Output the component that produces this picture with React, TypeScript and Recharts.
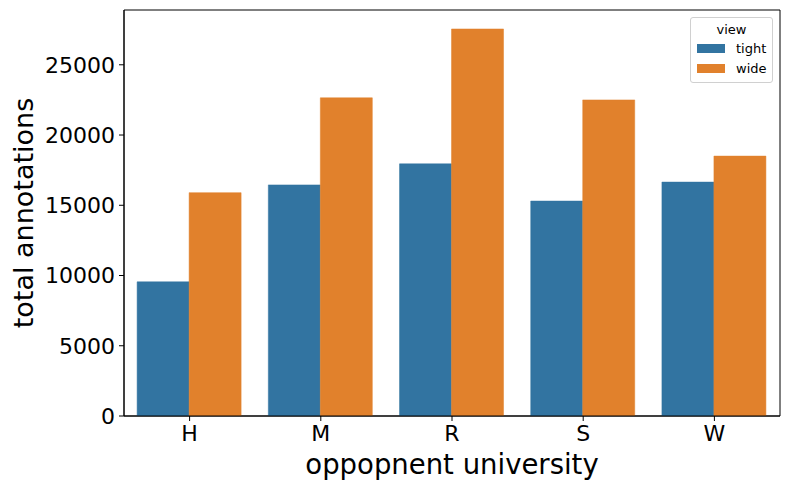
import { BarChart, Bar, XAxis, YAxis, Legend, Label, ReferenceArea } from "recharts"

const universities = ["H", "M", "R", "S", "W"]
const tightValues = [9550, 16450, 17950, 15300, 16650]
const wideValues = [15900, 22650, 27550, 22500, 18500]
const yTicks = [0, 5000, 10000, 15000, 20000, 25000]
const yDomain = [0, 28900]

const seriesInfo = [
  { key: "tight", color: "#3274a1" },
  { key: "wide", color: "#e1812c" },
]

const chartData = universities.map((name, i) => ({
  name,
  tight: tightValues[i],
  wide: wideValues[i],
}))

const font = "DejaVu Sans, sans-serif"

function ViewLegend() {
  return (
    <div
      style={{
        width: 81,
        height: 64,
        border: "1px solid #d0d0d0",
        borderRadius: 3,
        background: "rgba(255,255,255,0.8)",
        fontFamily: font,
        fontSize: 13,
        color: "#000",
        boxSizing: "content-box",
      }}
    >
      <div style={{ textAlign: "center", marginTop: 4, lineHeight: "16px" }}>view</div>
      {seriesInfo.map((s) => (
        <div key={s.key} style={{ display: "flex", alignItems: "center", height: 20, marginLeft: 6 }}>
          <span style={{ display: "inline-block", width: 28, height: 9, background: s.color }} />
          <span style={{ marginLeft: 11 }}>{s.key}</span>
        </div>
      ))}
    </div>
  )
}

function YTitle(props: any) {
  const vb = props.viewBox
  const cx = 33
  const cy = vb.y + vb.height / 2
  return (
    <text x={cx} y={cy} transform={`rotate(-90, ${cx}, ${cy})`} textAnchor="middle" fontSize={27} fontFamily={font} fill="#000">
      total annotations
    </text>
  )
}

function XTitle(props: any) {
  const vb = props.viewBox
  const cx = vb.x + vb.width / 2
  return (
    <text x={cx} y={474} textAnchor="middle" fontSize={27.5} fontFamily={font} fill="#000">
      oppopnent university
    </text>
  )
}

export default function App() {
  return (
    <div style={{ position: "absolute", left: 0, top: 0, width: 790, height: 490, background: "#fff" }}>
      <BarChart
        width={790}
        height={490}
        data={chartData}
        margin={{ top: 10, right: 10, bottom: 0, left: 0 }}
        barCategoryGap="10%"
        barGap={0}
      >
        <XAxis
          dataKey="name"
          height={74}
          tickSize={5}
          tickMargin={4}
          axisLine={{ stroke: "#000" }}
          tick={{ fill: "#000", fontSize: 22, fontFamily: font }}
          tickLine={{ stroke: "#000" }}
        >
          <Label content={XTitle} />
        </XAxis>
        <YAxis
          width={124}
          domain={yDomain}
          ticks={yTicks}
          tickSize={5}
          tickMargin={4}
          interval={0}
          allowDataOverflow
          axisLine={{ stroke: "#000" }}
          tick={{ fill: "#000", fontSize: 22, fontFamily: font }}
          tickLine={{ stroke: "#000" }}
        >
          <Label content={YTitle} />
        </YAxis>
        <Legend
          layout="horizontal"
          verticalAlign="middle"
          align="center"
          content={ViewLegend}
          wrapperStyle={{ position: "absolute", left: 690, top: 17, width: 83, height: 66 }}
        />
        {seriesInfo.map((s) => (
          <Bar
            key={s.key}
            dataKey={s.key}
            fill={s.color}
            stroke={s.color}
            strokeWidth={0.5}
            isAnimationActive={false}
          />
        ))}
        <ReferenceArea
          x1={universities[0]}
          x2={universities[universities.length - 1]}
          y1={yDomain[0]}
          y2={yDomain[1]}
          fill="none"
          fillOpacity={0}
          stroke="#000"
          strokeWidth={1}
          ifOverflow="visible"
        />
      </BarChart>
    </div>
  )
}
